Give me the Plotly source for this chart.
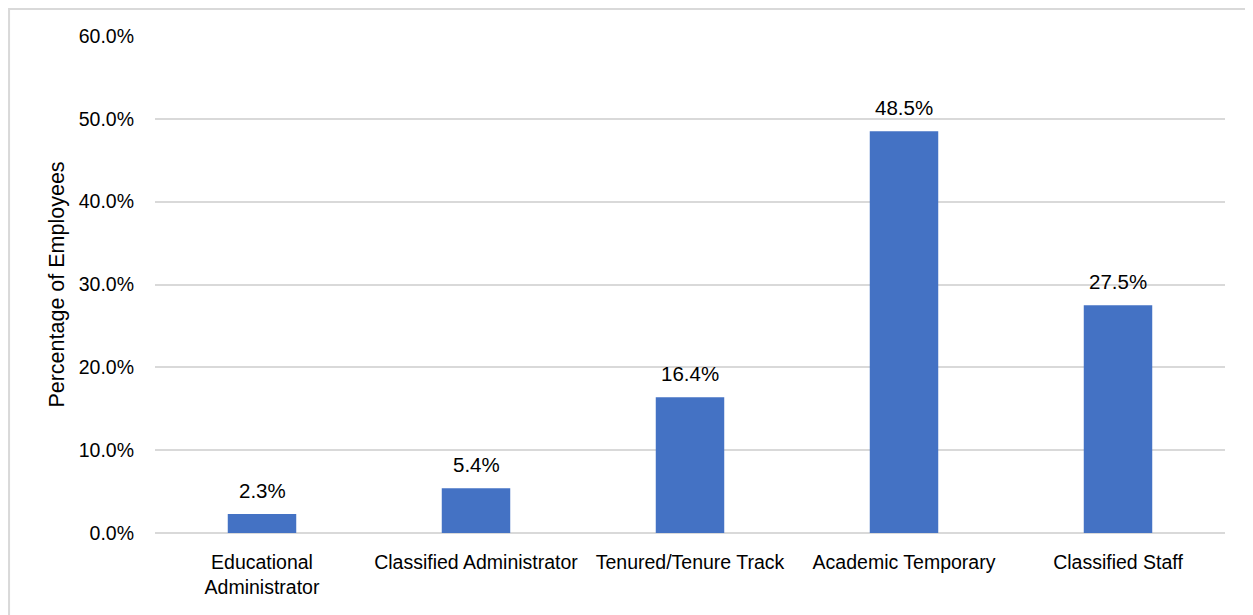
import plotly.graph_objects as go

categories = ["Educational<br>Administrator", "Classified Administrator", "Tenured/Tenure Track",
              "Academic Temporary", "Classified Staff"]
values = [2.3, 5.4, 16.4, 48.5, 27.5]

FONT = "Liberation Sans, Arial, sans-serif"
FS = 19.5
fig = go.Figure()
fig.add_trace(go.Bar(x=categories, y=values, marker=dict(color="#4472C4", line=dict(width=0)),
                     hoverinfo="skip"))

for c, v in zip(categories, values):
    fig.add_annotation(x=c, y=v, text=f"{v:.1f}%", showarrow=False, yanchor="bottom",
                       yshift=10, font=dict(size=20.5, color="#000000", family=FONT))

fig.add_shape(type="rect", xref="paper", yref="paper", x0=-0.1364, x1=1.05, y0=-0.2, y1=1.0543,
              line=dict(color="#d9d9d9", width=2), fillcolor="rgba(0,0,0,0)", layer="below")

fig.update_layout(
    width=1253, height=615,
    margin=dict(l=147, r=36, t=28, b=90),
    paper_bgcolor="white", plot_bgcolor="white",
    font=dict(family=FONT, size=FS, color="#000000"),
    bargap=0.68,
    showlegend=False,
    xaxis=dict(showgrid=False, showline=False, ticks="", tickangle=0, automargin=False,
               tickfont=dict(size=FS), ticklabelstandoff=15),
    yaxis=dict(range=[0, 60], dtick=10, tickformat=".1f", ticksuffix="%", automargin=False,
               showgrid=True, gridcolor="#d9d9d9", gridwidth=2,
               zeroline=True, zerolinecolor="#d9d9d9", zerolinewidth=2,
               showline=False, ticks="", ticklabelstandoff=20,
               title=dict(text="Percentage of Employees", font=dict(size=21.5), standoff=8)),
)
fig.write_html("out.html")
